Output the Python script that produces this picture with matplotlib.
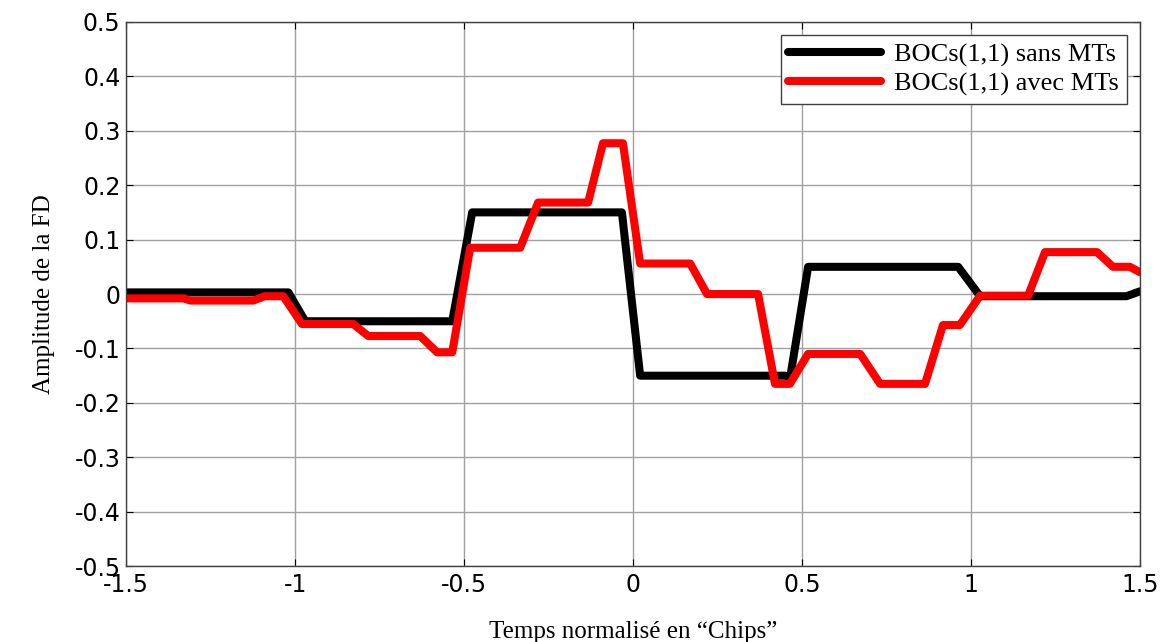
import numpy as np
import matplotlib
matplotlib.use("Agg")
import matplotlib.pyplot as plt

# breakpoints (normalised time in chips, amplitude)
black_x = [-1.5, -1.02, -0.97, -0.535, -0.476, -0.033, 0.021, 0.45, 0.465, 0.518,
           0.962, 1.027, 1.46, 1.5]
black_y = [0.003, 0.003, -0.05, -0.05, 0.15, 0.15, -0.15, -0.15, -0.153, 0.05,
           0.05, -0.004, -0.004, 0.005]

red_x = [-1.5, -1.33, -1.31, -1.124, -1.09, -1.035, -0.98, -0.828, -0.784, -0.63,
         -0.58, -0.535, -0.482, -0.334, -0.281, -0.133, -0.089, -0.03, 0.021,
         0.169, 0.219, 0.37, 0.42, 0.464, 0.518, 0.672, 0.731, 0.864, 0.917,
         0.967, 1.027, 1.169, 1.219, 1.373, 1.42, 1.47, 1.5]
red_y = [-0.008, -0.008, -0.012, -0.012, -0.004, -0.004, -0.055, -0.055, -0.077, -0.077,
         -0.107, -0.107, 0.085, 0.085, 0.168, 0.168, 0.277, 0.277, 0.056,
         0.056, 0.0, 0.0, -0.165, -0.165, -0.11, -0.11, -0.165, -0.165, -0.057,
         -0.057, -0.003, -0.003, 0.077, 0.077, 0.05, 0.05, 0.04]

labels = ["BOCs(1,1) sans MTs", "BOCs(1,1) avec MTs"]
xticks = [-1.5, -1, -0.5, 0, 0.5, 1, 1.5]
xticklabels = ["-1.5", "-1", "-0.5", "0", "0.5", "1", "1.5"]
yticks = [-0.5, -0.4, -0.3, -0.2, -0.1, 0, 0.1, 0.2, 0.3, 0.4, 0.5]
yticklabels = ["-0.5", "-0.4", "-0.3", "-0.2", "-0.1", "0", "0.1", "0.2", "0.3", "0.4", "0.5"]

serif = "Liberation Serif"

fig = plt.figure(figsize=(11.68, 6.42), dpi=100)
ax = fig.add_axes([0.108, 0.118, 0.868, 0.848])

ax.plot(black_x, black_y, color="black", lw=5.8, solid_joinstyle="round",
        solid_capstyle="round", label=labels[0])
ax.plot(red_x, red_y, color="red", lw=5.8, solid_joinstyle="round",
        solid_capstyle="round", label=labels[1])

ax.set_xlim(-1.5, 1.5)
ax.set_ylim(-0.5, 0.5)
ax.set_xticks(xticks)
ax.set_xticklabels(xticklabels)
ax.set_yticks(yticks)
ax.set_yticklabels(yticklabels)
ax.tick_params(direction="in", length=5, labelsize=17, top=True, right=True, pad=4)
ax.tick_params(axis="x", pad=5)
for t in ax.get_xticklabels() + ax.get_yticklabels():
    t.set_family("DejaVu Sans")

ax.grid(True, color="#a0a0a0", lw=1)
ax.set_axisbelow(True)
for s in ax.spines.values():
    s.set_color("#404040")
    s.set_linewidth(1)

ax.set_xlabel("Temps normalisé en \u201cChips\u201d", family=serif, fontsize=18, labelpad=17)
ax.set_ylabel("Amplitude de la FD", family=serif, fontsize=18, labelpad=14)

leg = ax.legend(loc="upper right", prop={"family": serif, "size": 19}, fancybox=False,
                edgecolor="#404040", framealpha=1, handlelength=3.5, handletextpad=0.5,
                borderaxespad=0.5, labelspacing=0.2, borderpad=0.3)
leg.get_frame().set_linewidth(1)

fig.savefig("out.png", dpi=100)
